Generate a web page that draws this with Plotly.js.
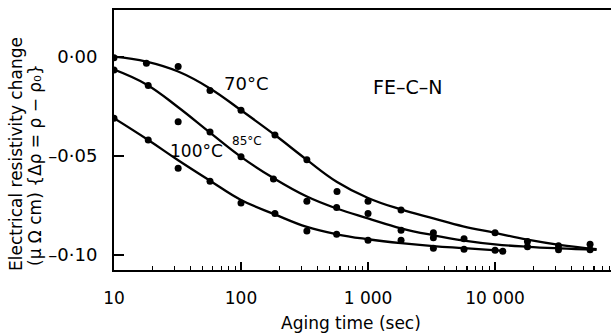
<!DOCTYPE html>
<html>
<head>
<meta charset="utf-8">
<script src="https://cdn.plot.ly/plotly-3.0.1.min.js"></script>
<style>
  html, body { margin: 0; padding: 0; background: #fff; }
  #chart { width: 611px; height: 336px; }
</style>
</head>
<body>
<div id="chart"></div>
<script>
// Measured resistivity change (μΩ cm) against aging time (s), Fe-C-N alloy
const t70 = [10, 18, 32, 57, 100, 185, 330, 570, 1000, 1820, 3270, 10000, 18000, 31600, 56000];
const v70 = [-0.0005, -0.0033, -0.0050, -0.0170, -0.0270, -0.0395, -0.0520, -0.0680, -0.0728, -0.0773, -0.0887, -0.0887, -0.0932, -0.0953, -0.0945];

const t85 = [10, 18.6, 32, 57, 100, 180, 330, 566, 1000, 1820, 3270, 5700, 18000, 31600, 56000];
const v85 = [-0.0067, -0.0145, -0.0328, -0.0380, -0.0505, -0.0617, -0.0728, -0.0760, -0.0790, -0.0875, -0.0913, -0.0917, -0.0958, -0.0973, -0.0973];

const t100 = [10, 18.6, 32, 57, 100, 185, 330, 566, 1000, 1820, 3270, 5700, 10000, 11500];
const v100 = [-0.0310, -0.0420, -0.0562, -0.0628, -0.0737, -0.0790, -0.0878, -0.0895, -0.0925, -0.0925, -0.0965, -0.0970, -0.0975, -0.0980];

// Smooth fitted curves through each data set
const c70t = [10, 18, 32, 57, 100, 185, 330, 566, 1000, 1820, 3270, 5600, 10000, 18000, 32000, 63000];
const c70v = [0.0000, -0.0025, -0.0075, -0.0160, -0.0270, -0.0395, -0.0520, -0.0630, -0.0712, -0.0770, -0.0815, -0.0855, -0.0888, -0.0922, -0.0948, -0.0970];

const c85t = [10, 18, 32, 57, 100, 180, 330, 566, 1000, 1820, 3270, 5700, 10000, 18000, 32000, 63000];
const c85v = [-0.0065, -0.0140, -0.0255, -0.0383, -0.0505, -0.0612, -0.0705, -0.0765, -0.0815, -0.0865, -0.0900, -0.0927, -0.0946, -0.0958, -0.0966, -0.0973];

const c100t = [10, 18.6, 32, 57, 100, 185, 330, 566, 1000, 1820, 3270, 5700, 11000];
const c100v = [-0.0310, -0.0420, -0.0522, -0.0625, -0.0722, -0.0795, -0.0858, -0.0895, -0.0920, -0.0940, -0.0955, -0.0965, -0.0977];

// Axis ticks and labels
const xTickVals = [10, 100, 1000, 10000];
const xTickText = ['10', '100', '1 000', '10 000'];
const yTickVals = [0, -0.05, -0.10];
const yTickText = ['0·00', '–0·05', '–0·10'];

const FONT = 'DejaVu Sans, Arial, sans-serif';

// minor ticks at 2..9 of each decade
const xMinor = [];
[10, 100, 1000, 10000].forEach(d => { for (let k = 2; k <= 9; k++) xMinor.push(d * k); });

// plot area geometry, used to place free text in paper units
const W = 611, H = 336, ML = 114, MR = 0, MT = 10, MB = 66;
const px = x => (x - ML) / (W - ML - MR);
const py = y => 1 - (y - MT) / (H - MT - MB);

function curve(t, v) {
  return { x: t, y: v, type: 'scatter', mode: 'lines', hoverinfo: 'skip',
           line: { color: '#000', width: 2.3, shape: 'spline', smoothing: 1.2 }, showlegend: false };
}
function pts(t, v) {
  return { x: t, y: v, type: 'scatter', mode: 'markers',
           marker: { color: '#000', size: 7 }, showlegend: false };
}

const data = [
  curve(c70t, c70v), curve(c85t, c85v), curve(c100t, c100v),
  pts(t70, v70), pts(t85, v85), pts(t100, v100)
];

const layout = {
  width: W, height: H, autosize: false,
  margin: { l: ML, r: MR, t: MT, b: MB, pad: 0 },
  paper_bgcolor: '#fff', plot_bgcolor: '#fff',
  font: { family: FONT, color: '#000' },
  xaxis: {
    type: 'log', range: [1, 4.913],
    showline: true, linewidth: 2, linecolor: '#000', mirror: true,
    showgrid: false, zeroline: false,
    ticks: 'inside', ticklen: 8, tickwidth: 1.5, tickcolor: '#000',
    tickmode: 'array', tickvals: xTickVals, ticktext: xTickText,
    tickfont: { size: 17, family: FONT }, ticklabelstandoff: 12,
    minor: { tickmode: 'array', tickvals: xMinor, ticks: 'inside', ticklen: 4, tickwidth: 1.3, tickcolor: '#000', showgrid: false }
  },
  yaxis: {
    range: [-0.1075, 0.0235],
    showline: true, linewidth: 2, linecolor: '#000',
    showgrid: false, zeroline: false,
    ticks: 'inside', ticklen: 10, tickwidth: 1.5, tickcolor: '#000',
    tickmode: 'array', tickvals: yTickVals, ticktext: yTickText,
    tickfont: { size: 18, family: FONT }, ticklabelstandoff: 11
  },
  annotations: [
    { text: '70°C', xref: 'x', yref: 'y', x: 2.039, y: -0.0133, showarrow: false, font: { size: 18 } },
    { text: '85°C', xref: 'x', yref: 'y', x: 2.047, y: -0.0425, showarrow: false, font: { size: 12 } },
    { text: '100°C', xref: 'x', yref: 'y', x: 1.646, y: -0.0475, showarrow: false, font: { size: 17 } },
    { text: 'FE–C–N', xref: 'x', yref: 'y', x: 3.307, y: -0.0153, showarrow: false, font: { size: 19 } },
    { text: 'Aging time (sec)', xref: 'paper', yref: 'paper', x: px(351), y: py(323),
      xanchor: 'center', yanchor: 'middle', showarrow: false, font: { size: 17 } },
    { text: 'Electrical resistivity change', xref: 'paper', yref: 'paper', x: px(16), y: py(273),
      xanchor: 'center', yanchor: 'bottom', textangle: -90, showarrow: false, font: { size: 17 } },
    { text: '(μ Ω cm) {Δρ = ρ − ρ₀}', xref: 'paper', yref: 'paper', x: px(35), y: py(268),
      xanchor: 'center', yanchor: 'bottom', textangle: -90, showarrow: false, font: { size: 17 } }
  ]
};

Plotly.newPlot('chart', data, layout, { displayModeBar: false, staticPlot: true });
</script>
</body>
</html>
